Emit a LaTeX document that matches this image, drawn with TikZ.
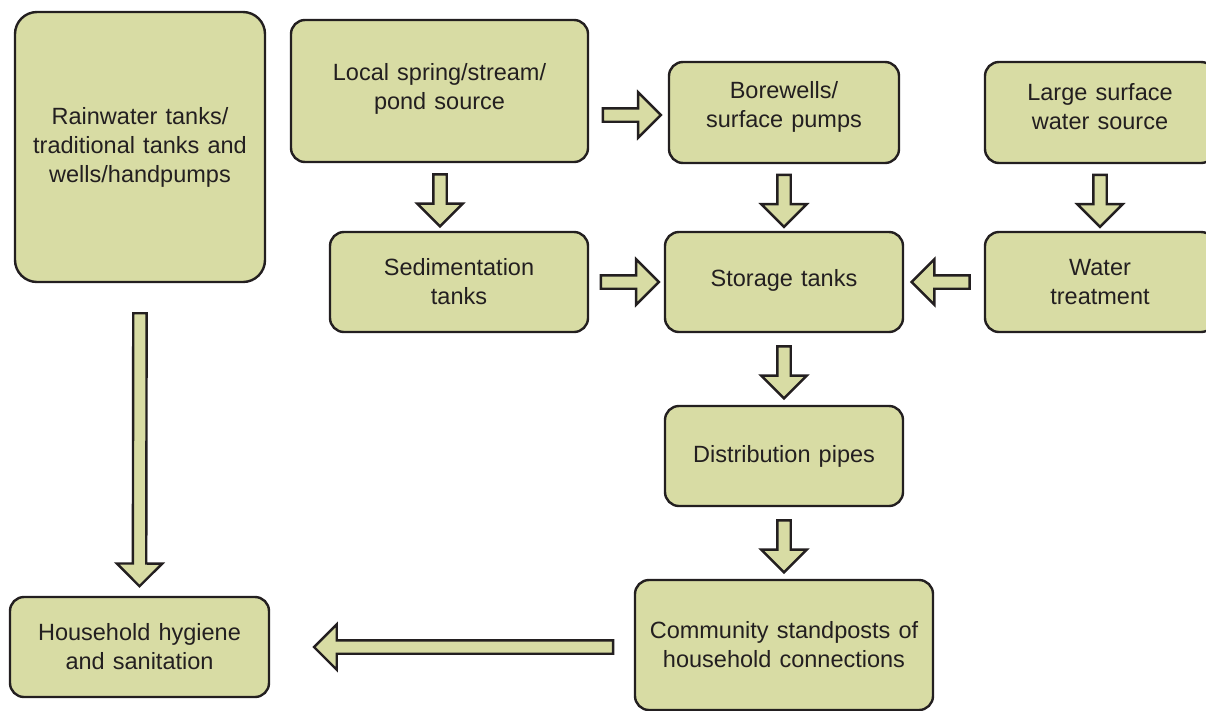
\documentclass[tikz,border=0pt]{standalone}
\usepackage{fontspec}
\setmainfont[WordSpace={1.25,0.3,0.3}]{Liberation Sans}
\usetikzlibrary{shapes.arrows,calc}
\definecolor{boxfill}{RGB}{216,220,164}
\definecolor{ink}{RGB}{35,31,32}
\tikzset{
  boxtext/.style={align=center, text=ink, inner sep=0pt,
    font=\fontsize{23.5}{29}\selectfont},
  box/.style={boxtext, draw=ink, fill=boxfill, line width=2.4pt, rounded corners=14pt},
  blockarr/.style={single arrow, draw=ink, fill=boxfill, line width=2.4pt,
    inner xsep=0pt, inner ysep=5.5pt, minimum width=0pt,
    single arrow head extend=16pt, sloped, allow upside down,
    anchor=center},
}
\begin{document}
\begin{tikzpicture}[x=1pt,y=-1pt]
\useasboundingbox (0,0) rectangle (1206,710);
\clip (0,0) rectangle (1206,710);
\node[box, rounded corners=22pt, minimum width=250pt, minimum height=270pt] (rain) at (140,147) {\raisebox{2pt}{}Rainwater tanks/\\traditional tanks and\\wells/handpumps};
\node[box, minimum width=297pt, minimum height=142pt,
  label={[boxtext, yshift=2pt]center:Local spring/stream/\\pond source}] (spring) at (439.5,91) {};
\node[box, minimum width=230pt, minimum height=101pt,
  label={[boxtext, yshift=6pt]center:Borewells/\\surface pumps}] (bore) at (784,112.5) {};
\node[box, minimum width=230pt, minimum height=101pt,
  label={[boxtext, yshift=6pt]center:Large surface\\water source}] (large) at (1100,112.5) {};
\node[box, minimum width=258pt, minimum height=100pt] (sed) at (459,282) {Sedimentation\\tanks};
\node[box, minimum width=238pt, minimum height=100pt,
  label={[boxtext, yshift=2pt]center:Storage tanks}] (stor) at (784,282) {};
\node[box, minimum width=230pt, minimum height=100pt] (treat) at (1100,282) {Water\\treatment};
\node[box, minimum width=238pt, minimum height=100pt] (dist) at (784,456) {Distribution pipes};
\node[box, minimum width=298pt, minimum height=130pt] (comm) at (784,645) {Community standposts of\\household connections};
\node[box, minimum width=259pt, minimum height=100pt] (house) at (139.5,647) {Household hygiene\\and sanitation};

\path (spring.east |- 0,115) -- node[blockarr, minimum height=58pt] {} (bore.west |- 0,115);
\path (spring.south -| 440,0) -- node[blockarr, minimum height=52pt] {} (sed.north -| 440,0);
\path (bore.south) -- node[blockarr, minimum height=52pt] {} (stor.north);
\path (large.south) -- node[blockarr, minimum height=52pt] {} (treat.north);
\path (sed.east) -- node[blockarr, minimum height=58pt] {} (stor.west);
\path (treat.west) -- node[blockarr, minimum height=58pt] {} (stor.east);
\path (stor.south) -- node[blockarr, minimum height=52pt] {} (dist.north);
\path (dist.south) -- node[blockarr, minimum height=52pt] {} (comm.north);
\path (rain.south) -- node[blockarr, pos=0.522, minimum height=273pt] {} (house.north);
\path (comm.west |- house.east) -- node[blockarr, pos=0.459, minimum height=299pt] {} (house.east);
\end{tikzpicture}
\end{document}
